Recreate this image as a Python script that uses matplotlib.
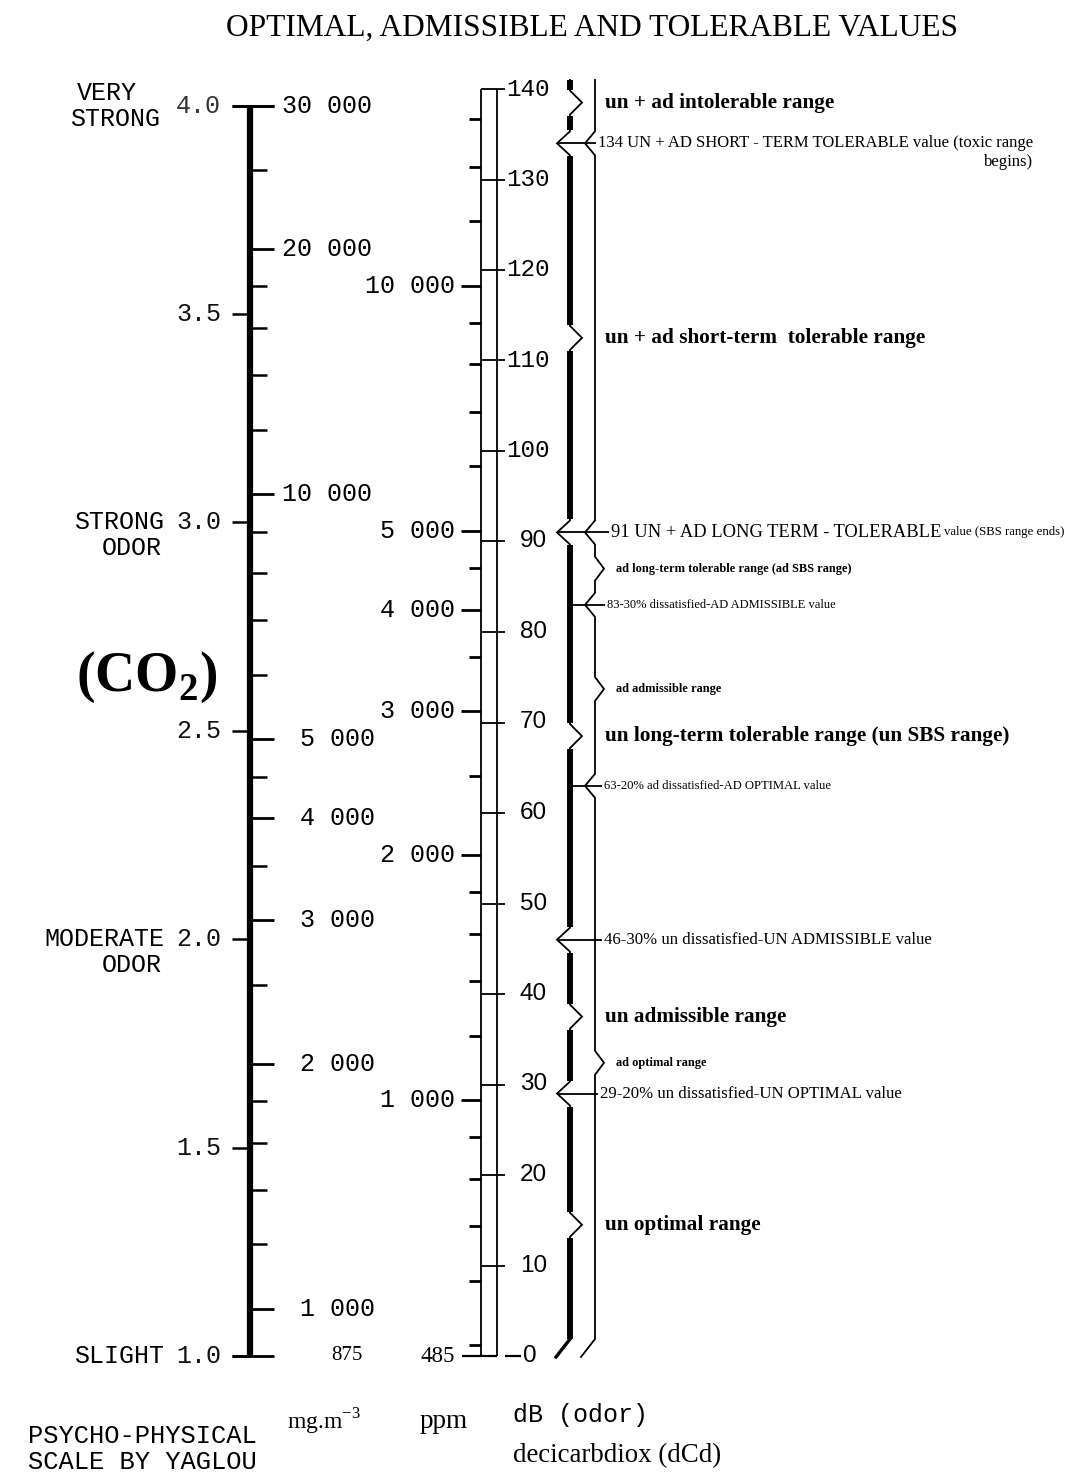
import numpy as np
import matplotlib
matplotlib.use("Agg")
import matplotlib.pyplot as plt

SERIF = "Liberation Serif"
MONO = "Liberation Mono"
SANS = "Liberation Sans"

# ---------------- data ----------------
title = "OPTIMAL, ADMISSIBLE AND TOLERABLE VALUES"

yaglou_ticks = [4.0, 3.5, 3.0, 2.5, 2.0, 1.5, 1.0]
yaglou_words = {4.0: ["VERY", "STRONG"], 3.0: ["STRONG", "ODOR"],
                2.0: ["MODERATE", "ODOR"], 1.0: ["SLIGHT"]}

mg_base = 875
mg_top = 30000
mg_major = [30000, 20000, 10000, 5000, 4000, 3000, 2000, 1000]
mg_minor = [25000, 18000, 16000, 14000, 12000, 9000, 8000, 7000, 6000,
            4500, 3500, 2500, 1800, 1600, 1400, 1200]

ppm_base = 485
ppm_major = [10000, 5000, 4000, 3000, 2000, 1000]
ppm_minor = [16000, 14000, 12000, 9000, 8000, 7000, 6000, 4500, 3500, 2500,
             1800, 1600, 1400, 1200, 900, 800, 700, 600, 500]

db_ticks = list(range(0, 141, 10))

un_values = [134, 91, 46, 29]
ad_values = [134, 91, 83, 63]
un_range_mid = [138.5, 112.5, 68.5, 37.5, 14.5]
ad_range_mid = [87.0, 73.7, 32.4]
scale_top = 141.0

un_range_labels = ["un + ad intolerable range",
                   "un + ad short-term  tolerable range",
                   "un long-term tolerable range (un SBS range)",
                   "un admissible range",
                   "un optimal range"]
ad_range_labels = ["ad long-term tolerable range (ad SBS range)",
                   "ad admissible range",
                   "ad optimal range"]

note_values = [134, 91, 83, 63, 46, 29]
note_texts = ["134 UN + AD SHORT - TERM TOLERABLE value (toxic range",
              "91 UN + AD LONG TERM - TOLERABLE",
              "83-30% dissatisfied-AD ADMISSIBLE value",
              "63-20% ad dissatisfied-AD OPTIMAL value",
              "46-30% un dissatisfied-UN ADMISSIBLE value",
              "29-20% un dissatisfied-UN OPTIMAL value"]
note_tail = {134: "begins)", 91: "value (SBS range ends)"}

# ---------------- scales ----------------
def dcd(v, base):
    return 90.0 * np.log10(np.asarray(v, dtype=float) / base)

def yaglou_db(s):
    return (np.asarray(s, dtype=float) - 1.0) / 3.0 * dcd(mg_top, mg_base)

# ---------------- figure / layout ----------------
W, H = 1067, 1474
Y0PX, PXDB = 1356.0, 9.05
fig = plt.figure(figsize=(W / 100, H / 100), dpi=100)
ax = fig.add_axes([0, 0, 1, 1])
ax.set_xlim(0, W)
ax.set_ylim((Y0PX - H) / PXDB, Y0PX / PXDB)
ax.axis("off")

def py(p):
    return (Y0PX - p) / PXDB

def dpx(p):
    return p / PXDB

K = "black"
FS = 18
renderer = fig.canvas.get_renderer()

# title
ax.text(592, py(28), title, family=SERIF, fontsize=22.6, ha="center", va="center")

# ---------------- Yaglou / mg scale ----------------
XY = 250
ax.vlines(XY, yaglou_db(1.0), yaglou_db(4.0), color=K, lw=4.5)
ax.hlines(yaglou_db(yaglou_ticks), 232, XY, color=K, lw=1.8)
for s in yaglou_ticks:
    ax.text(221, yaglou_db(s), f"{s:.1f}", family=MONO, fontsize=FS,
            ha="right", va="center", color="#333333" if s == 4.0 else "#111111")
for s, words in yaglou_words.items():
    y = yaglou_db(s)
    if s == 4.0:
        ax.text(77, y + dpx(13), words[0], family=MONO, fontsize=FS, ha="left", va="center")
        ax.text(70, y - dpx(13), words[1], family=MONO, fontsize=FS, ha="left", va="center")
    else:
        ax.text(164, y, words[0], family=MONO, fontsize=FS, ha="right", va="center")
        if len(words) > 1:
            ax.text(162, y - dpx(26), words[1], family=MONO, fontsize=FS, ha="right", va="center")

mg_y = dcd(mg_major, mg_base)
ax.hlines(mg_y, XY, 274, color=K, lw=2.0)
ax.hlines([dcd(mg_top, mg_base), dcd(mg_base, mg_base)], 232, 274, color=K, lw=2.0)
ax.hlines(dcd(mg_minor, mg_base), XY, 267, color=K, lw=1.8)
for v, y in zip(mg_major, mg_y):
    lab = f"{v:,}".replace(",", " ")
    x = 282 if v >= 10000 else 300
    ax.text(x, y, lab, family=MONO, fontsize=FS, ha="left", va="center")
ax.text(331, 0, str(mg_base), family=SERIF, fontsize=15, ha="left", va="center")

ax.text(147, py(677), "(CO$_{\\mathregular{2}}$)", family=SERIF, fontsize=40,
        fontweight="bold", ha="center", va="center")

# ---------------- ppm / dB scale ----------------
XP, XD = 481, 497
ax.vlines([XP, XD], 0, 140, color=K, lw=1.3)
ax.hlines(140, XP, 505, color=K, lw=1.3)
ax.hlines(0, 462, XD, color=K, lw=1.6)
ppm_y = dcd(ppm_major, ppm_base)
ax.hlines(ppm_y, 461, XP, color=K, lw=2.0)
ax.hlines(dcd(ppm_minor, ppm_base), 469, XP, color=K, lw=2.0)
for v, y in zip(ppm_major, ppm_y):
    ax.text(455, y, f"{v:,}".replace(",", " "), family=MONO, fontsize=FS,
            ha="right", va="center")
ax.text(455, 0, str(ppm_base), family=SERIF, fontsize=16.5, ha="right", va="center")

mid_db = [d for d in db_ticks if 0 < d < 140]
ax.hlines(mid_db, XP, 505, color=K, lw=1.3)
ax.hlines(0, 505, 521, color=K, lw=1.6)
for d in db_ticks:
    if d >= 100:
        ax.text(506, d, str(d), family=MONO, fontsize=17.5, ha="left", va="center")
    elif d > 0:
        ax.text(520, d, str(d), family=SANS, fontsize=17.5, ha="left", va="center")
    else:
        ax.text(523, d, str(d), family=SANS, fontsize=17.5, ha="left", va="center")

# ---------------- braces ----------------
XU, XA = 570, 595
HALF = dpx(12)

def brace_polyline(x0, notches, tips, ndx, tdx, tail_dx):
    feats = sorted([(v, ndx) for v in notches] + [(v, tdx) for v in tips],
                   key=lambda f: -f[0])
    xs, ys = [x0], [scale_top]
    for v, dx in feats:
        xs += [x0, x0 + dx, x0]
        ys += [v + HALF, v, v - HALF]
    tail_y = dpx(17)
    xs += [x0, x0 + tail_dx]
    ys += [tail_y, dpx(-1)]
    return xs, ys, feats

xs, ys, feats_u = brace_polyline(XU, un_values, un_range_mid, -13, 12, -14)
ax.plot(xs, ys, color=K, lw=1.3, solid_joinstyle="miter")
bounds = [scale_top]
for v, _ in feats_u:
    bounds += [v + HALF + dpx(1), v - HALF - dpx(1)]
bounds += [dpx(17)]
for a, b in zip(bounds[0::2], bounds[1::2]):
    if a > b:
        ax.plot([XU, XU], [a, b], color=K, lw=4.3, solid_capstyle="butt")
ax.plot([XU, XU - 14], [dpx(17), dpx(-1)], color=K, lw=2.4)

xs, ys, _ = brace_polyline(XA, ad_values, ad_range_mid, -10, 9, -14)
ax.plot(xs, ys, color=K, lw=1.3, solid_joinstyle="miter")

# ---------------- range labels ----------------
for y, lab in zip(un_range_mid, un_range_labels):
    ax.text(605, y, lab, family=SERIF, fontsize=15.3, fontweight="bold",
            ha="left", va="center")
for y, lab in zip(ad_range_mid, ad_range_labels):
    ax.text(616, y, lab, family=SERIF, fontsize=8.9, fontweight="bold",
            ha="left", va="center")

# ---------------- value notes ----------------
note_style = {134: (598, 12), 91: (611, 13.3), 83: (607, 9),
              63: (604, 9.1), 46: (604, 12.1), 29: (600, 12.1)}
for v, txt in zip(note_values, note_texts):
    x, fs = note_style[v]
    x_start = XU - 13 if v in un_values else XU + 3
    ax.hlines(v, x_start, x - 2, color=K, lw=1.3)
    t = ax.text(x, v, txt, family=SERIF, fontsize=fs, ha="left", va="center")
    if v in note_tail:
        bb = t.get_window_extent(renderer)
        if v == 134:
            ax.text(bb.x1, v - dpx(19), note_tail[v], family=SERIF, fontsize=fs,
                    ha="right", va="center")
        else:
            ax.text(bb.x1 + 3, v, note_tail[v], family=SERIF, fontsize=9.2,
                    ha="left", va="center")

# ---------------- bottom captions ----------------
ax.text(28, py(1436), "PSYCHO-PHYSICAL", family=MONO, fontsize=18.4, ha="left", va="center")
ax.text(28, py(1462), "SCALE BY YAGLOU", family=MONO, fontsize=18.4, ha="left", va="center")
ax.text(287, py(1422), "mg.m$^{\\mathregular{-3}}$", family=SERIF, fontsize=17, ha="left", va="center")
ax.text(420, py(1422), "ppm", family=SERIF, fontsize=19.5, ha="left", va="center")
ax.text(513, py(1415), "dB (odor)", family=MONO, fontsize=18, ha="left", va="center")
ax.text(513, py(1456), "decicarbdiox (dCd)", family=SERIF, fontsize=19.4, ha="left", va="center")

fig.savefig("out.png", dpi=100, facecolor="white")
